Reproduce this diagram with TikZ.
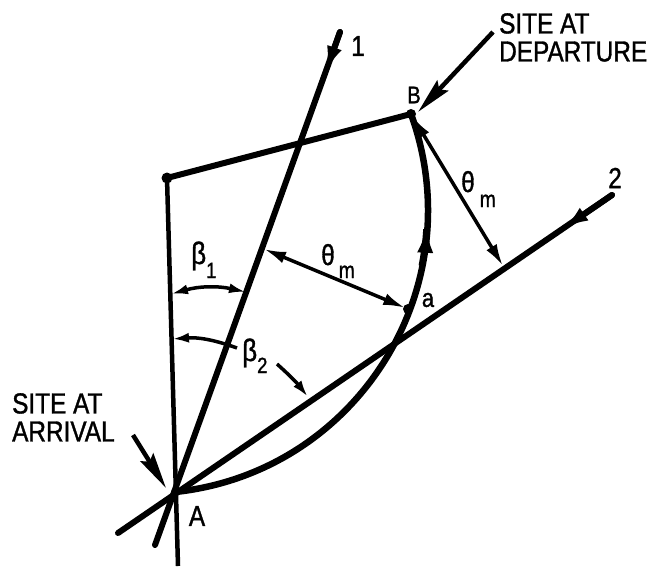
\documentclass[tikz,border=0pt]{standalone}
\usepackage{fontspec}
\setmainfont{Liberation Sans}
\newfontfamily\lbl[FakeStretch=0.84,FakeBold=1.2]{Liberation Sans}
\usetikzlibrary{arrows.meta}
\tikzset{
  tipL/.tip={Latex[length=28pt,width=15pt]},
  tipT/.tip={Latex[length=22pt,width=12pt]},
  tipB/.tip={Latex[length=17pt,width=10pt]},
  tipS/.tip={Stealth[length=36pt,width=15pt,inset=5pt]},
  tipC/.tip={Latex[length=28pt,width=16pt]}}
\begin{document}
\begin{tikzpicture}[x=1pt,y=-1pt,
  mainline/.style={line width=6pt,line cap=round},
  vline/.style={line width=4.5pt},
  arcline/.style={line width=6.5pt,line cap=round},
  thinarrow/.style={line width=3.5pt},
  betaarc/.style={line width=3.5pt},
  sitearrow/.style={line width=4.5pt,-{tipS}},
  dotnode/.style={circle,fill=black,inner sep=0pt,minimum size=#1},
  dotnode/.default=9pt,
  lab/.style={inner sep=0pt,font=\lbl\fontsize{29}{28}\selectfont}]
\useasboundingbox (0,0) rectangle (659,566);
% points
\coordinate (A) at (175,492);
\coordinate (C) at (167,178);
\coordinate (B) at (411,114);
\coordinate (a) at (408,309);
\coordinate (V) at (178,566);
\coordinate (L1t) at (340,32);
\coordinate (L1b) at (155,545);
\coordinate (L1h) at (325,74);
\coordinate (L2t) at (612,195);
\coordinate (L2b) at (118,533);
\coordinate (L2h) at (561,230);
\coordinate (P1) at (264,249);
\coordinate (Q) at (503,266);
\coordinate (b1l) at (171,294);
\coordinate (b1r) at (246,292);
\coordinate (b2l) at (172,339);
\coordinate (b2m) at (237,348);
\coordinate (b2s) at (277,364);
\coordinate (b2e) at (308,397);
\coordinate (arrS) at (133,435);
\coordinate (arrT) at (166,488);
\coordinate (depS) at (493,32);
\coordinate (depT) at (418,112);
% lines
\draw[vline] (C) -- (V);
\draw[mainline] (L1t) -- (L1b);
\draw[mainline,-{tipL}] (L1t) -- (L1h);
\draw[mainline] (L2t) -- (L2b);
\draw[mainline,-{tipL}] (L2t) -- (L2h);
\draw[mainline] (C) -- (B);
% arc A to B
\draw[arcline] (A) .. controls (357.7,472.5) and (473.3,286.6) .. (B);
\draw[arcline,line cap=butt,-{tipC}] plot[domain=-11:-2.6,samples=10] ({145+282*cos(\x)},{212-282*sin(\x)});
% theta_m arrows
\draw[thinarrow,{tipT}-{tipT},shorten >=3pt] (P1) -- (a);
\draw[thinarrow,{tipT}-{tipT},shorten <=3pt] (B) -- (Q);
% beta arcs
\draw[betaarc,{tipB}-{tipB}] (b1l) to[bend left=14] (b1r);
\draw[betaarc,-{tipB}] (b2m) to[bend right=12] (b2l);
\draw[betaarc,-{tipB}] (b2s) to[bend left=5] (b2e);
% site arrows
\draw[sitearrow] (arrS) -- (arrT);
\draw[sitearrow] (depS) -- (depT);
% dots
\node[dotnode=11pt] (Cdot) at (C) {};
\node[dotnode=10pt] (Bdot) at (B) {};
\node[dotnode=10pt] (adot) at (a) {};
\node[dotnode=8pt] (Adot) at (A) {};
% labels
\node[lab] (n1) at (358,46) {1};
\node[lab] (n2) at (615,178) {2};
\node[lab,font=\lbl\fontsize{24}{24}\selectfont] (nB) at (414,95) {B};
\node[lab] (nA) at (197,516) {A};
\node[lab,font=\lbl\fontsize{26}{26}\selectfont] (na) at (428,300) {a};
\node[lab,anchor=base west] (th1) at (321,265) {θ\kern4pt\raisebox{-13pt}{\fontsize{23}{23}\selectfont m}};
\node[lab,anchor=base west] (th2) at (461,192) {θ\kern5pt\raisebox{-15pt}{\fontsize{23}{23}\selectfont m}};
\node[lab,anchor=base west,font=\lbl\fontsize{31}{31}\selectfont] (be1) at (191,264) {β\raisebox{-14pt}{\fontsize{22}{22}\selectfont 1}};
\node[lab,anchor=base west,font=\lbl\fontsize{31}{31}\selectfont] (be2) at (242,361) {β\raisebox{-12pt}{\fontsize{22}{22}\selectfont 2}};
\node[lab,align=left,anchor=north west] (dep) at (499,13) {SITE AT\\DEPARTURE};
\node[lab,align=left,anchor=north west] (arr) at (12,393) {SITE AT\\ARRIVAL};
\end{tikzpicture}
\end{document}
